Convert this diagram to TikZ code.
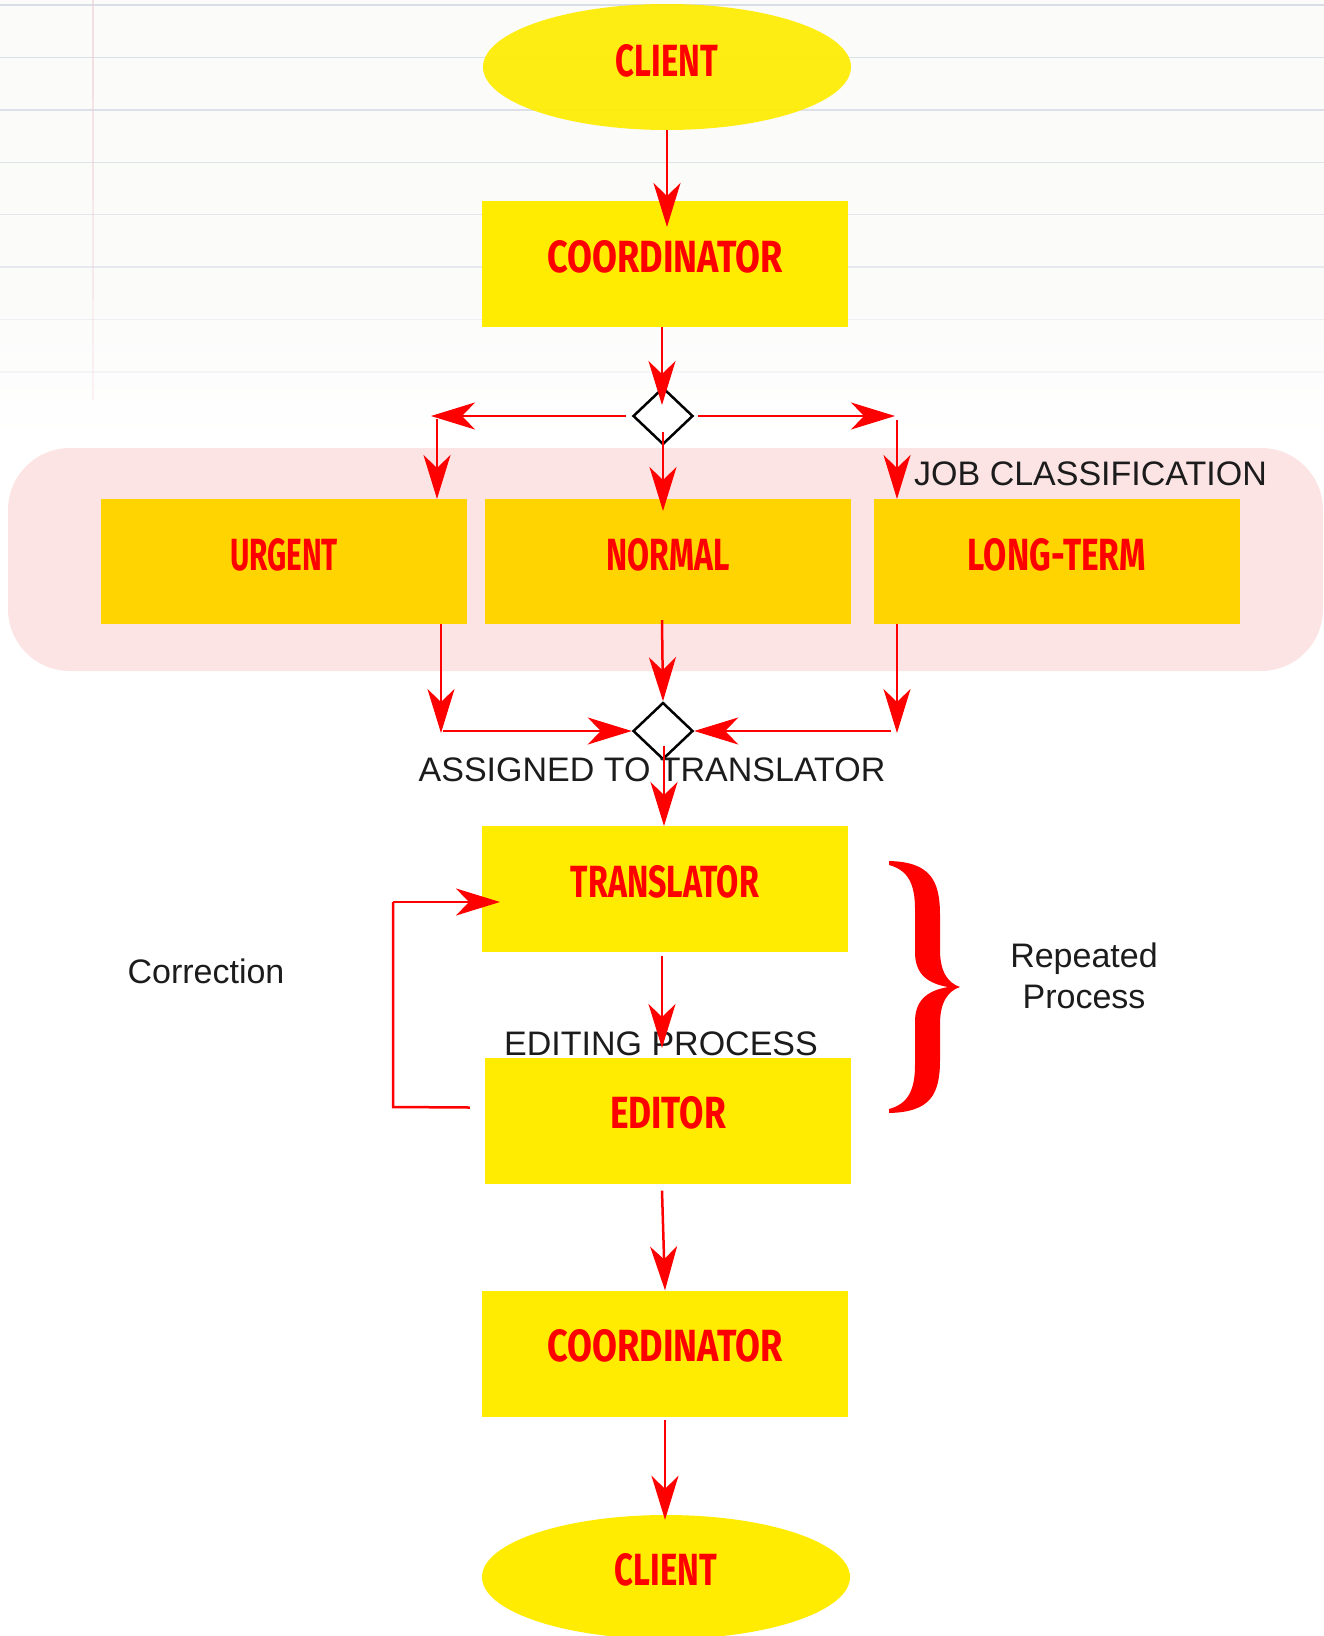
\documentclass[tikz,border=0pt]{standalone}
\usepackage{graphicx}
\usepackage{fontspec}
\setmainfont{Liberation Sans}
\newfontfamily\hand{Fira Sans}
\usetikzlibrary{arrows.meta,shapes.geometric,calc}
\definecolor{redline}{HTML}{FF0000}
\definecolor{boxyellow}{HTML}{FFEC00}
\definecolor{boxgold}{HTML}{FFD400}
\definecolor{zonepink}{HTML}{FDE4E4}
\definecolor{inkblack}{HTML}{1C1C1C}
\definecolor{paperline}{HTML}{D3D8E3}
\definecolor{marginred}{HTML}{EFCFD3}
\definecolor{paper}{HTML}{FBFBFA}
\newcommand\lbl[3][8]{\raisebox{-#1pt}[0pt][0pt]{\resizebox{#2}{32pt}{\hand\bfseries #3}}}
\tikzset{
  stepbox/.style={rectangle, fill=boxyellow, minimum width=366pt, minimum height=126pt, inner sep=0pt, text=redline},
  classbox/.style={rectangle, fill=boxgold, minimum width=366pt, minimum height=125pt, inner sep=0pt, text=redline},
  endpoint/.style={ellipse, fill=boxyellow, minimum width=368pt, minimum height=126pt, inner sep=0pt, text=redline},
  decision/.style={diamond, draw=black, fill=white, line width=2.5pt, minimum width=60pt, minimum height=57pt, inner sep=0pt},
  txt/.style={text=inkblack, font=\fontsize{34}{41}\selectfont, inner sep=0pt},
  arr/.style={draw=redline, line width=2.5pt, -{Stealth[length=44pt,width=27pt,inset=13pt]}},
  plainline/.style={draw=redline, line width=2.5pt},
  ruling/.style={draw=paperline, line width=1.4pt},
}
\begin{document}
\begin{tikzpicture}[x=1pt,y=-1pt]
\useasboundingbox (0,0) rectangle (1324,1636);
\fill[white] (0,0) rectangle (1324,1636);
\fill[paper] (0,0) rectangle (1324,300);
\shade[top color=paper, bottom color=white] (0,300) rectangle (1324,440);
\foreach \i/\o in {0/0.85,1/0.8,2/0.75,3/0.7,4/0.6,5/0.5,6/0.38,7/0.2}
  \draw[ruling, opacity=\o] (0,5+52.4*\i) -- (1324,5+52.4*\i);
\foreach \s/\o in {0/0.6,100/0.5,200/0.4,300/0.25}
  \draw[marginred, line width=1.2pt, opacity=\o] (93,\s) -- (93,\s+100);

% job classification zone
\node[rectangle, rounded corners=62pt, fill=zonepink, minimum width=1315pt, minimum height=223pt, inner sep=0pt] (zone) at (665.5,559.5) {};

% nodes
\node[endpoint, fill opacity=0.92, text opacity=1] (cl1) at (667,67) {\lbl[9]{102pt}{CLIENT}};
\node[stepbox] (co1) at (665,264) {\lbl{235pt}{COORDINATOR}};
\node[decision] (d1) at (663,416) {};
\node[classbox] (ur) at (284,561.5) {\lbl[9]{108pt}{URGENT}};
\node[classbox] (no) at (668,561.5) {\lbl[9]{123pt}{NORMAL}};
\node[classbox] (lt) at (1057,561.5) {\lbl[9]{178pt}{LONG-TERM}};
\node[decision] (d2) at (663,731) {};
\node[stepbox] (tr) at (665,889) {\lbl{188pt}{TRANSLATOR}};
\node[stepbox] (ed) at (668,1120.5) {\lbl{116pt}{EDITOR}};
\node[stepbox] (co2) at (665,1353.5) {\lbl{235pt}{COORDINATOR}};
\node[endpoint, minimum height=124pt] (cl2) at (666,1577) {\lbl{102pt}{CLIENT}};

% texts
\node[txt, anchor=base west] (jobl) at (914,485) {JOB CLASSIFICATION};
\node[txt, anchor=base] (asg) at (652,781) {ASSIGNED TO TRANSLATOR};
\node[txt, anchor=base] (edp) at (661,1055) {EDITING PROCESS};
\node[txt, anchor=base] (corr) at (206,983) {Correction};
\node[txt, anchor=base] (rep1) at (1084,967) {Repeated};
\node[txt, anchor=base] (rep2) at (1084,1008) {Process};

% connector end points
\coordinate (t1) at (667,227);
\coordinate (t2) at (662,405);
\coordinate (jl) at (431,416);
\coordinate (jr) at (895,416);
\coordinate (ul) at (437,419);
\coordinate (ult) at (437,499);
\coordinate (rl) at (897,420);
\coordinate (rlt) at (897,499);
\coordinate (nt) at (663,511);
\coordinate (ub) at (441,733);
\coordinate (lb) at (897,733);
\coordinate (ubh) at (443,731);
\coordinate (lbh) at (891,731);
\coordinate (tt) at (664,826);
\coordinate (et) at (662,1048);
\coordinate (lpa) at (393,1107);
\coordinate (lpb) at (393,902);
\coordinate (lpt) at (500,902);

% connectors
\draw[arr] (cl1.south) -- (t1);
\draw[arr] ($(co1.south)+(-3,0)$) -- (t2);
\draw[arr] ($(d1.west)+(-6,0)$) -- (jl);
\draw[arr] ($(d1.east)+(4,0)$) -- (jr);
\draw[arr] (ul) -- (ult);
\draw[arr] (rl) -- (rlt);
\draw[arr] ($(d1.south)+(0,-14)$) -- (nt);
\draw[arr] ($(ur.south)+(157,0)$) -- (ub);
\draw[arr] ($(lt.south)+(-160,0)$) -- (lb);
\draw[arr] ($(no.south)+(-6,-4)$) -- (d2.north);
\draw[arr] (ubh) -- (d2.west);
\draw[arr] (lbh) -- (d2.east);
\draw[arr] ($(d2.south)+(1,-15)$) -- (tt);
\draw[arr] ($(tr.south)+(-3,4)$) -- (et);
\draw[plainline] ($(ed.west)+(-15,-13)$) -- (lpa) -- (lpb);
\draw[arr] (lpb) -- (lpt);
\draw[arr] ($(ed.south)+(-6,7)$) -- (co2.north);
\draw[arr] ($(co2.south)+(0,3)$) -- ($(cl2.north)+(-1,5)$);

% brace
\fill[redline] (889,861) .. controls (930,862) and (940,880) .. (940,915)
  -- (940,950) .. controls (940,972) and (948,983) .. (960,987)
  .. controls (948,991) and (940,1002) .. (940,1024)
  -- (940,1060) .. controls (940,1095) and (930,1112) .. (889,1113)
  -- (889,1109) .. controls (908,1104) and (915,1090) .. (915,1065)
  -- (915,1022) .. controls (915,1002) and (925,991) .. (948,987)
  .. controls (925,983) and (915,972) .. (915,952)
  -- (915,909) .. controls (915,884) and (908,870) .. (889,865) -- cycle;
\end{tikzpicture}
\end{document}
